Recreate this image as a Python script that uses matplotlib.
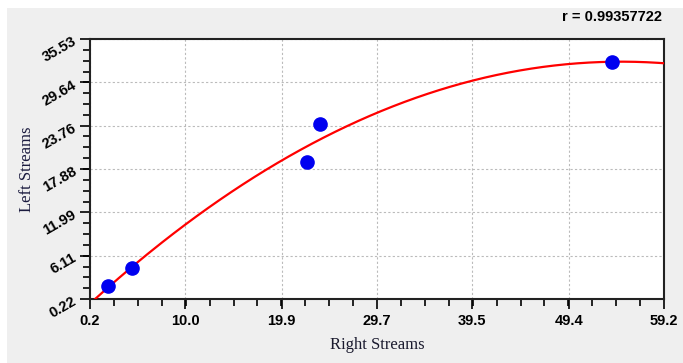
import matplotlib
matplotlib.use("Agg")
import matplotlib.pyplot as plt
import matplotlib.patches as mpatches
import numpy as np

# data
right_streams = [2.05, 4.5, 22.5, 23.8, 53.9]
left_streams = [2.0, 4.4, 18.8, 24.0, 32.4]
x_ticks = [0.2, 10.0, 19.9, 29.7, 39.5, 49.4, 59.2]
y_ticks = [0.22, 6.11, 11.99, 17.88, 23.76, 29.64, 35.53]
r_text = "r = 0.99357722"

fig = plt.figure(figsize=(6.83, 3.63), dpi=100)
fig.patch.set_facecolor("white")
fig.patches.append(mpatches.Rectangle((7 / 683, 0), 1, 355 / 363, transform=fig.transFigure,
                                      facecolor="#efefef", edgecolor="none", zorder=-10))
ax = fig.add_axes([90 / 683, 1 - 299 / 363, 574 / 683, 260 / 363])
ax.set_facecolor("white")

# fitted curve (quadratic)
coef = np.polyfit(right_streams, left_streams, 2)
xs = np.linspace(x_ticks[0], x_ticks[-1], 200)
ax.plot(xs, np.polyval(coef, xs), color="red", lw=1.6, zorder=3)
ax.plot(right_streams, left_streams, "o", color="#0000f0", ms=9.5, zorder=4)

ax.set_xlim(x_ticks[0], x_ticks[-1])
ax.set_ylim(y_ticks[0], y_ticks[-1])
ax.set_xticks(x_ticks)
ax.set_yticks(y_ticks)
ax.set_xticklabels([f"{v:.1f}" for v in x_ticks], fontfamily="Liberation Sans",
                   fontweight="bold", fontsize=10.5)
ax.set_yticklabels([f"{v:.2f}" for v in y_ticks], fontfamily="Liberation Sans",
                   fontweight="bold", fontsize=10.5, rotation=30, ha="right",
                   rotation_mode="anchor")
xm = [x_ticks[0] + i * (x_ticks[-1] - x_ticks[0]) / 24 for i in range(25)]
ym = [y_ticks[0] + i * (y_ticks[-1] - y_ticks[0]) / 24 for i in range(25)]
ax.set_xticks(xm, minor=True)
ax.set_yticks(ym, minor=True)
ax.tick_params(which="major", length=7, width=1.2, direction="out", pad=4)
ax.tick_params(which="minor", length=5, width=1.2, direction="out")
ax.grid(True, which="major", linestyle=(0, (2, 2)), color="#bbbbbb", lw=0.8)
for s in ax.spines.values():
    s.set_linewidth(1.5)
    s.set_color("#222222")

ax.set_xlabel("Right Streams", fontfamily="Liberation Serif", fontsize=12, color="#1a1a2e", labelpad=6)
ax.set_ylabel("Left Streams", fontfamily="Liberation Serif", fontsize=12, color="#1a1a3e", labelpad=4)
fig.text(662 / 683, 1 - 17 / 363, r_text, ha="right", va="center",
         fontfamily="Liberation Sans", fontweight="bold", fontsize=10.5)

fig.savefig("out.png", dpi=100)
